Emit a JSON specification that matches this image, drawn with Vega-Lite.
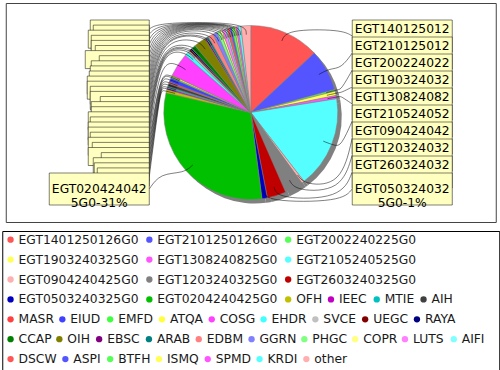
{
 "$schema": "https://vega.github.io/schema/vega-lite/v6.json",
 "background": "white",
 "padding": {"left": 1, "top": 2, "right": 0, "bottom": 0},
 "autosize": {"type": "pad"},
 "spacing": 7,
 "center": true,
 "config": {"view": {"stroke": null}},
 "datasets": {
  "d": [
   {"i": 0, "name": "EGT1401250126G0", "value": 13.0},
   {"i": 1, "name": "EGT2101250126G0", "value": 7.7},
   {"i": 2, "name": "EGT2002240225G0", "value": 0.3},
   {"i": 3, "name": "EGT1903240325G0", "value": 0.8},
   {"i": 4, "name": "EGT1308240825G0", "value": 0.6},
   {"i": 5, "name": "EGT2105240525G0", "value": 17.0},
   {"i": 6, "name": "EGT0904240425G0", "value": 0.5},
   {"i": 7, "name": "EGT1203240325G0", "value": 3.4},
   {"i": 8, "name": "EGT2603240325G0", "value": 3.5},
   {"i": 9, "name": "EGT0503240325G0", "value": 1.0},
   {"i": 10, "name": "EGT0204240425G0", "value": 30.6},
   {"i": 11, "name": "OFH", "value": 0.6},
   {"i": 12, "name": "IEEC", "value": 0.3},
   {"i": 13, "name": "MTIE", "value": 0.3},
   {"i": 14, "name": "AIH", "value": 0.6},
   {"i": 15, "name": "MASR", "value": 0.3},
   {"i": 16, "name": "EIUD", "value": 0.8},
   {"i": 17, "name": "EMFD", "value": 0.2},
   {"i": 18, "name": "ATQA", "value": 0.3},
   {"i": 19, "name": "COSG", "value": 4.4},
   {"i": 20, "name": "EHDR", "value": 0.7},
   {"i": 21, "name": "SVCE", "value": 0.4},
   {"i": 22, "name": "UEGC", "value": 0.3},
   {"i": 23, "name": "RAYA", "value": 0.3},
   {"i": 24, "name": "CCAP", "value": 0.8},
   {"i": 25, "name": "OIH", "value": 2.2},
   {"i": 26, "name": "EBSC", "value": 0.3},
   {"i": 27, "name": "ARAB", "value": 0.4},
   {"i": 28, "name": "EDBM", "value": 1.0},
   {"i": 29, "name": "GGRN", "value": 0.8},
   {"i": 30, "name": "PHGC", "value": 0.6},
   {"i": 31, "name": "COPR", "value": 0.4},
   {"i": 32, "name": "LUTS", "value": 0.6},
   {"i": 33, "name": "AIFI", "value": 0.3},
   {"i": 34, "name": "DSCW", "value": 0.5},
   {"i": 35, "name": "ASPI", "value": 0.4},
   {"i": 36, "name": "BTFH", "value": 0.5},
   {"i": 37, "name": "ISMQ", "value": 0.3},
   {"i": 38, "name": "SPMD", "value": 0.4},
   {"i": 39, "name": "KRDI", "value": 0.5},
   {"i": 40, "name": "other", "value": 1.8}
  ]
 },
 "vconcat": [
  {
   "width": 490,
   "height": 219,
   "view": {"stroke": "#444444", "strokeWidth": 1},
   "data": {"name": "d"},
   "transform": [
    {"window": [{"op": "sum", "field": "value", "as": "cum"}], "sort": [{"field": "i", "order": "ascending"}], "frame": [null, 0]},
    {"joinaggregate": [{"op": "sum", "field": "value", "as": "total"}]},
    {"calculate": "PI*(2*datum.cum-datum.value)/datum.total", "as": "mid"},
    {"calculate": "datum.mid < PI ? 'R' : 'L'", "as": "side"},
    {"calculate": "datum.side == 'R' ? datum.i : -datum.i", "as": "sk"},
    {"window": [{"op": "row_number", "as": "rank"}], "groupby": ["side"], "sort": [{"field": "sk", "order": "ascending"}]},
    {"joinaggregate": [{"op": "count", "as": "n"}], "groupby": ["side"]},
    {"calculate": "datum.name + '-' + format(datum.value/datum.total, '.0%')", "as": "label"},
    {"calculate": "length(datum.label) > 12 ? [substring(datum.label,0,12), substring(datum.label,12)] : [datum.label]", "as": "lines"},
    {"calculate": "datum.lines[0]", "as": "l1"},
    {"calculate": "8*length(datum.l1)-4*length(replace(datum.l1,regexp('[^-I]','g'),''))-3*length(replace(datum.l1,regexp('[^tr]','g'),''))-length(replace(datum.l1,regexp('[^FLPTYeo]','g'),''))+length(replace(datum.l1,regexp('[^DGHNOQU]','g'),''))+2*length(replace(datum.l1,regexp('[^M]','g'),''))+3*length(replace(datum.l1,regexp('[^%]','g'),''))+4*length(replace(datum.l1,regexp('[^W]','g'),''))", "as": "tw"},
    {"calculate": "length(datum.lines)*14+4", "as": "bh"},
    {"calculate": "17 + (datum.rank-1)*153/(datum.n-1)", "as": "top"},
    {"calculate": "datum.top + datum.bh", "as": "bot"},
    {"calculate": "datum.side == 'R' ? 346.5 : 143.5 - datum.tw - 4", "as": "bx1"},
    {"calculate": "datum.bx1 + datum.tw + 4", "as": "bx2"},
    {"calculate": "(datum.bx1 + datum.bx2)/2", "as": "bcx"},
    {"calculate": "datum.top + datum.bh/2", "as": "bcy"}
   ],
   "layer": [
    {
     "mark": {"type": "arc", "outerRadius": 87, "fill": "#808080", "xOffset": 4, "yOffset": 4},
     "encoding": {
      "theta": {"field": "value", "type": "quantitative", "stack": true},
      "order": {"field": "i", "type": "quantitative"}
     }
    },
    {
     "mark": {"type": "arc", "outerRadius": 87, "stroke": "#808080", "strokeWidth": 0.5},
     "encoding": {
      "theta": {"field": "value", "type": "quantitative", "stack": true},
      "order": {"field": "i", "type": "quantitative"},
      "color": {
       "field": "name", "type": "nominal", "legend": null,
       "scale": {
        "domain": ["EGT1401250126G0","EGT2101250126G0","EGT2002240225G0","EGT1903240325G0","EGT1308240825G0","EGT2105240525G0","EGT0904240425G0","EGT1203240325G0","EGT2603240325G0","EGT0503240325G0","EGT0204240425G0","OFH","IEEC","MTIE","AIH","MASR","EIUD","EMFD","ATQA","COSG","EHDR","SVCE","UEGC","RAYA","CCAP","OIH","EBSC","ARAB","EDBM","GGRN","PHGC","COPR","LUTS","AIFI","DSCW","ASPI","BTFH","ISMQ","SPMD","KRDI","other"],
        "range": ["#FF5555","#5555FF","#55FF55","#FFFF55","#FF55FF","#55FFFF","#FFAFAF","#808080","#C00000","#0000C0","#00C000","#C0C000","#C000C0","#00C0C0","#404040","#FF4040","#4040FF","#40FF40","#FFFF40","#FF40FF","#40FFFF","#C0C0C0","#800000","#000080","#008000","#808000","#800080","#008080","#FF8080","#8080FF","#80FF80","#FFFF80","#FF80FF","#80FFFF","#FF5555","#5555FF","#55FF55","#FFFF55","#FF55FF","#55FFFF","#FFAFAF"]
       }
      }
     }
    },
    {
     "transform": [
      {"calculate": "[{k:0, x: datum.side=='R' ? 346.5 : 143.5, y: datum.bcy}, {k:1, x: datum.side=='R' ? 335.5 : 154.5, y: 109.5-90.5*cos(datum.mid)}, {k:2, x: 245+90.5*sin(datum.mid), y: 109.5-90.5*cos(datum.mid)}, {k:3, x: 245+78*sin(datum.mid), y: 109.5-78*cos(datum.mid)}]", "as": "pts"},
      {"flatten": ["pts"]},
      {"calculate": "datum.pts.x", "as": "px"},
      {"calculate": "datum.pts.y", "as": "py"},
      {"calculate": "datum.pts.k", "as": "pk"}
     ],
     "mark": {"type": "line", "interpolate": "basis", "stroke": "#000000", "strokeWidth": 0.5},
     "encoding": {
      "x": {"field": "px", "type": "quantitative", "scale": {"domain": [0, 490], "nice": false, "zero": false}, "axis": null},
      "y": {"field": "py", "type": "quantitative", "scale": {"domain": [0, 219], "nice": false, "zero": false, "reverse": true}, "axis": null},
      "detail": {"field": "name", "type": "nominal"},
      "order": {"field": "pk", "type": "quantitative"}
     }
    },
    {
     "mark": {"type": "rect", "fill": "#979797", "fillOpacity": 0.5, "xOffset": 2, "yOffset": 2},
     "encoding": {
      "x": {"field": "bx1", "type": "quantitative"},
      "x2": {"field": "bx2"},
      "y": {"field": "top", "type": "quantitative"},
      "y2": {"field": "bot"},
      "order": {"field": "rank", "type": "quantitative"}
     }
    },
    {
     "mark": {"type": "rect", "fill": "#FFFFC0", "stroke": "#000000", "strokeWidth": 0.5},
     "encoding": {
      "x": {"field": "bx1", "type": "quantitative"},
      "x2": {"field": "bx2"},
      "y": {"field": "top", "type": "quantitative"},
      "y2": {"field": "bot"},
      "order": {"field": "rank", "type": "quantitative"}
     }
    },
    {
     "transform": [
      {"filter": "datum.side == 'R' || datum.rank == datum.n"},
      {"calculate": "datum.rank == datum.n ? datum.lines : datum.l1", "as": "txt"},
      {"calculate": "datum.rank == datum.n ? datum.bcy : datum.top + 9", "as": "ty"}
     ],
     "mark": {"type": "text", "align": "center", "baseline": "middle", "font": "DejaVu Sans", "fontSize": 12.3, "lineHeight": 14, "color": "#000000"},
     "encoding": {
      "x": {"field": "bcx", "type": "quantitative"},
      "y": {"field": "ty", "type": "quantitative"},
      "text": {"field": "txt"}
     }
    }
   ]
  },
  {
   "width": 497,
   "height": 140,
   "view": {"stroke": "#000000", "strokeWidth": 1},
   "data": {"name": "d"},
   "transform": [
    {"calculate": "8*length(datum.name)-4*length(replace(datum.name,regexp('[^-I]','g'),''))-3*length(replace(datum.name,regexp('[^tr]','g'),''))-length(replace(datum.name,regexp('[^FLPTYeo]','g'),''))+length(replace(datum.name,regexp('[^DGHNOQU]','g'),''))+2*length(replace(datum.name,regexp('[^M]','g'),''))+3*length(replace(datum.name,regexp('[^%]','g'),''))+4*length(replace(datum.name,regexp('[^W]','g'),''))", "as": "tw"},
    {"calculate": "datum.tw + 17.8", "as": "adv"},
    {"window": [{"op": "sum", "field": "adv", "as": "ce"}], "sort": [{"field": "i", "order": "ascending"}], "frame": [null, 0]},
    {"calculate": "datum.ce - datum.adv", "as": "cs"},
    {"calculate": "datum.cs + 8 + datum.tw", "as": "e"},
    {"calculate": "datum.row == null ? datum.cs : null", "as": "u"},
    {"joinaggregate": [{"op": "min", "field": "u", "as": "m"}]},
    {"calculate": "datum.row != null ? datum.row : (datum.e - datum.m <= 483 ? 0 : null)", "as": "row"},
    {"calculate": "datum.row == null ? datum.cs : null", "as": "u"},
    {"joinaggregate": [{"op": "min", "field": "u", "as": "m"}]},
    {"calculate": "datum.row != null ? datum.row : (datum.e - datum.m <= 483 ? 1 : null)", "as": "row"},
    {"calculate": "datum.row == null ? datum.cs : null", "as": "u"},
    {"joinaggregate": [{"op": "min", "field": "u", "as": "m"}]},
    {"calculate": "datum.row != null ? datum.row : (datum.e - datum.m <= 483 ? 2 : null)", "as": "row"},
    {"calculate": "datum.row == null ? datum.cs : null", "as": "u"},
    {"joinaggregate": [{"op": "min", "field": "u", "as": "m"}]},
    {"calculate": "datum.row != null ? datum.row : (datum.e - datum.m <= 483 ? 3 : null)", "as": "row"},
    {"calculate": "datum.row == null ? datum.cs : null", "as": "u"},
    {"joinaggregate": [{"op": "min", "field": "u", "as": "m"}]},
    {"calculate": "datum.row != null ? datum.row : (datum.e - datum.m <= 483 ? 4 : null)", "as": "row"},
    {"calculate": "datum.row == null ? datum.cs : null", "as": "u"},
    {"joinaggregate": [{"op": "min", "field": "u", "as": "m"}]},
    {"calculate": "datum.row != null ? datum.row : (datum.e - datum.m <= 483 ? 5 : null)", "as": "row"},
    {"calculate": "datum.row == null ? datum.cs : null", "as": "u"},
    {"joinaggregate": [{"op": "min", "field": "u", "as": "m"}]},
    {"calculate": "datum.row != null ? datum.row : (datum.e - datum.m <= 483 ? 6 : null)", "as": "row"},
    {"calculate": "datum.row == null ? datum.cs : null", "as": "u"},
    {"joinaggregate": [{"op": "min", "field": "u", "as": "m"}]},
    {"calculate": "datum.row != null ? datum.row : (datum.e - datum.m <= 483 ? 7 : null)", "as": "row"},
    {"joinaggregate": [{"op": "min", "field": "cs", "as": "rs"}], "groupby": ["row"]},
    {"calculate": "8.3 + datum.cs - datum.rs", "as": "lx"},
    {"calculate": "datum.lx + 8", "as": "tx"},
    {"calculate": "8.7 + datum.row*19.9", "as": "ly"}
   ],
   "layer": [
    {
     "mark": {"type": "circle", "size": 40, "opacity": 1},
     "encoding": {
      "x": {"field": "lx", "type": "quantitative", "scale": {"domain": [0, 497], "nice": false, "zero": false}, "axis": null},
      "y": {"field": "ly", "type": "quantitative", "scale": {"domain": [0, 140], "nice": false, "zero": false, "reverse": true}, "axis": null},
      "color": {"field": "name", "type": "nominal", "legend": null}
     }
    },
    {
     "mark": {"type": "text", "align": "left", "baseline": "middle", "font": "DejaVu Sans", "fontSize": 12.3, "color": "#1a1a1a"},
     "encoding": {
      "x": {"field": "tx", "type": "quantitative"},
      "y": {"field": "ly", "type": "quantitative"},
      "text": {"field": "name"}
     }
    }
   ]
  }
 ]
}
